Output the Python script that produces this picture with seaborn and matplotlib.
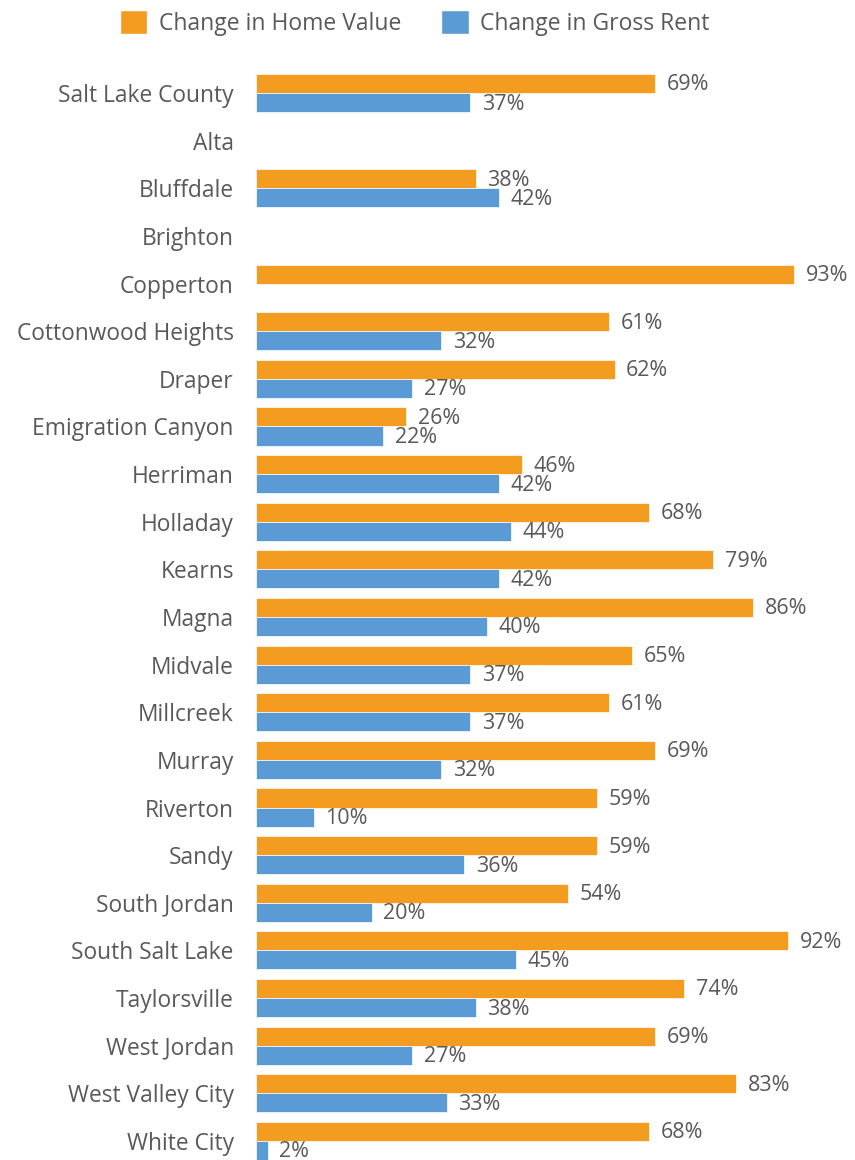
#! /usr/bin/env python3
'''
Change in home value vs change in gross rent, Salt Lake County places
'''
# imports
import matplotlib
matplotlib.use('Agg')
from matplotlib import rcParams
from matplotlib.patches import Patch
import matplotlib.pyplot as plt
import numpy as np
import pandas as pd
import seaborn as sns

# data
places = ["Salt Lake County", "Alta", "Bluffdale", "Brighton", "Copperton",
          "Cottonwood Heights", "Draper", "Emigration Canyon", "Herriman",
          "Holladay", "Kearns", "Magna", "Midvale", "Millcreek", "Murray",
          "Riverton", "Sandy", "South Jordan", "South Salt Lake",
          "Taylorsville", "West Jordan", "West Valley City", "White City"]
home_value = [69, np.nan, 38, np.nan, 93, 61, 62, 26, 46, 68, 79, 86, 65, 61,
              69, 59, 59, 54, 92, 74, 69, 83, 68]
gross_rent = [37, np.nan, 42, np.nan, np.nan, 32, 27, 22, 42, 44, 42, 40, 37,
              37, 32, 10, 36, 20, 45, 38, 27, 33, 2]
series = ["Change in Home Value", "Change in Gross Rent"]
colors = ["#F39C1F", "#5B9BD5"]

df = pd.DataFrame({
    "place": places * 2,
    "value": home_value + gross_rent,
    "series": [series[0]] * len(places) + [series[1]] * len(places),
})

# settings
sns.set_style("white")
rcParams['font.family'] = ['Open Sans', 'DejaVu Sans']
gray = "#595959"

fig = plt.figure(figsize=(8.55, 11.6), dpi=100)
ax = fig.add_axes([0.2994, -0.0041, 0.9760 - 0.2994, 0.9444])
sns.barplot(data=df, y="place", x="value", hue="series", order=places,
            hue_order=series, palette=colors, orient="h", width=0.8,
            edgecolor="white", linewidth=0.5, saturation=1, legend=False, ax=ax)

# value labels
for i, (h, r) in enumerate(zip(home_value, gross_rent)):
    if not np.isnan(h):
        ax.text(h + 2.0, i - 0.17, f"{h:.0f}%", va="center", ha="left",
                fontsize=15.5, color=gray)
    if not np.isnan(r):
        ax.text(r + 2.0, i + 0.23, f"{r:.0f}%", va="center", ha="left",
                fontsize=15.5, color=gray)

ax.set_xlim(0, 100)
ax.set_ylim(22.5, -0.5)
ax.set_xlabel("")
ax.set_ylabel("")
ax.set_xticks([])
ax.tick_params(axis='y', length=0, pad=16, labelsize=16.4, labelcolor=gray)
sns.despine(ax=ax, left=True, bottom=True)

handles = [Patch(facecolor=c, edgecolor="white", label=s) for c, s in zip(colors, series)]
fig.legend(handles=handles, loc="center", bbox_to_anchor=(0.485, 0.980), ncol=2,
           frameon=False, fontsize=16.5, labelcolor=gray, handlelength=1.2,
           handleheight=1.2, handletextpad=0.5, columnspacing=1.75)

fig.savefig("out.png", dpi=100)
plt.close()
